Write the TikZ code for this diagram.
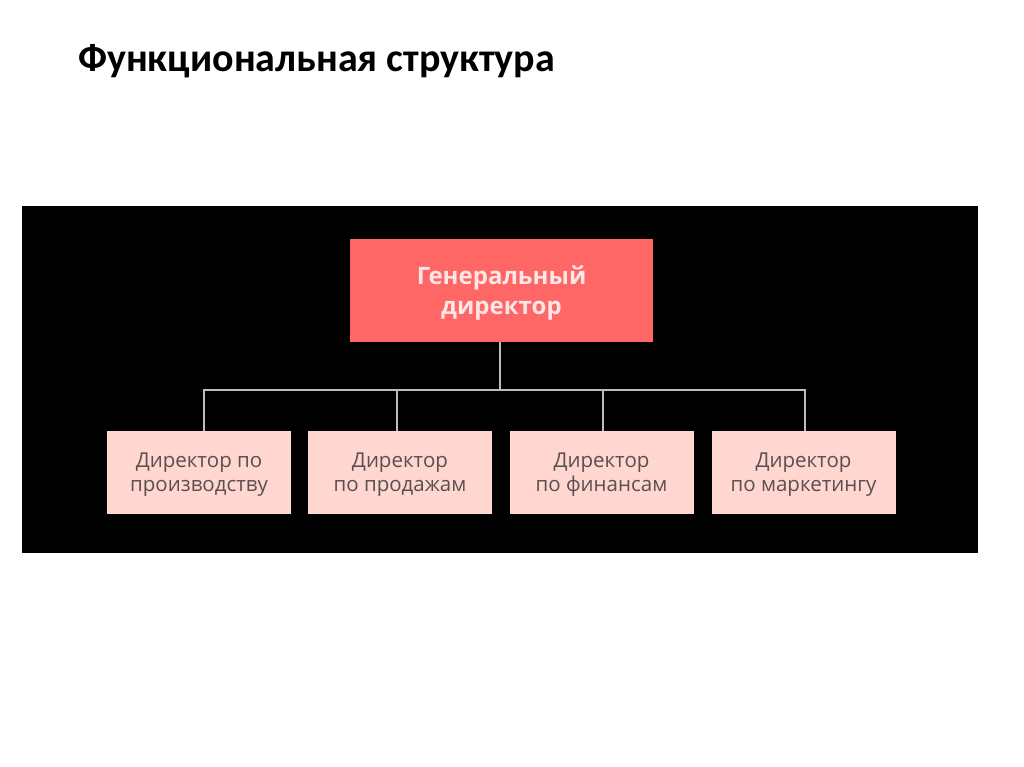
\documentclass[tikz,border=0pt]{standalone}
\usepackage{fontspec}
\setmainfont{Open Sans}
\newfontfamily\titlefont{Carlito}
\definecolor{topfill}{HTML}{FF6666}
\definecolor{subfill}{HTML}{FFD6D0}
\definecolor{toptext}{HTML}{FCE6E6}
\definecolor{subtext}{HTML}{5A5050}
\definecolor{linegray}{HTML}{BDBDBD}
\tikzset{
  topbox/.style={fill=topfill, draw=none, minimum width=303pt, minimum height=103pt, inner sep=0pt},
  toplabel/.style={align=center, text=toptext, inner sep=0pt, yshift=-3pt, font=\fontsize{24}{30}\selectfont\bfseries},
  subbox/.style={fill=subfill, draw=none, minimum width=184pt, minimum height=83pt, inner sep=0pt},
  sublabel/.style={align=center, text=subtext, inner sep=0pt, yshift=-2.5pt, font=\fontsize{20.5}{24}\selectfont},
  conn/.style={draw=linegray, line width=2pt}
}
\begin{document}
\begin{tikzpicture}[x=1pt,y=-1pt]
\useasboundingbox (0,0) rectangle (1024,767);
\fill[white] (0,0) rectangle (1024,767);
\node[anchor=base west, inner sep=0pt, font=\titlefont\fontsize{40}{46}\selectfont\bfseries] (title) at (78,72) {Функциональная структура};
\fill[black] (22,206) rectangle (978,553);
\node[topbox, label={[toplabel]center:{Генеральный\\директор}}] (gd) at (501.5,290.5) {};
\node[subbox, label={[sublabel]center:{Директор по\\производству}}] (s1) at (199,472.5) {};
\node[subbox, label={[sublabel]center:{Директор\\по продажам}}] (s2) at (400,472.5) {};
\node[subbox, label={[sublabel]center:{Директор\\по финансам}}] (s3) at (601.5,472.5) {};
\node[subbox, label={[sublabel]center:{Директор\\по маркетингу}}] (s4) at (803.5,472.5) {};
\coordinate (bus) at (500,390);
\draw[conn] (gd.south -| bus) -- (bus);
\draw[conn] (s1.north -| 204,0) |- (bus) -| (s4.north -| 805,0);
\draw[conn] (s2.north -| 397,0) -- (397,390);
\draw[conn] (s3.north -| 603,0) -- (603,390);
\end{tikzpicture}
\end{document}
